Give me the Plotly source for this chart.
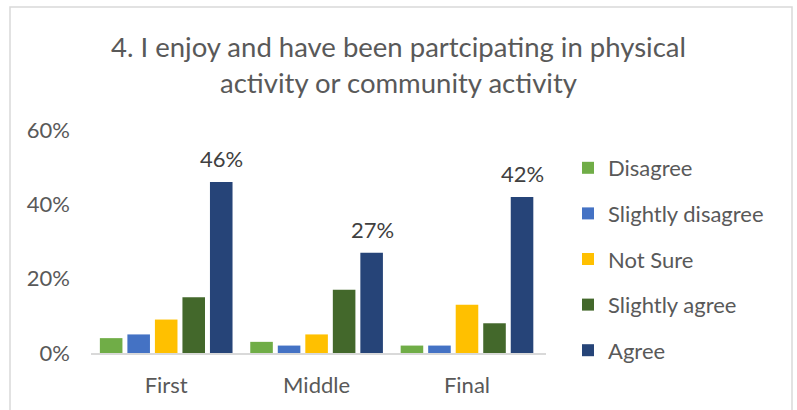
import plotly.graph_objects as go

# Survey responses by stage
stages = ["First", "Middle", "Final"]
disagree = [0.04, 0.03, 0.02]
slightly_disagree = [0.05, 0.02, 0.02]
not_sure = [0.09, 0.05, 0.13]
slightly_agree = [0.15, 0.17, 0.08]
agree = [0.46, 0.27, 0.42]

series = [
    ("Disagree", disagree, "#70AD47"),
    ("Slightly disagree", slightly_disagree, "#4472C4"),
    ("Not Sure", not_sure, "#FFC000"),
    ("Slightly agree", slightly_agree, "#43682B"),
    ("Agree", agree, "#264478"),
]

W, H = 797, 410
ML, MR, MT, MB = 91, 251, 130, 57
PW, PH = W - ML - MR, H - MT - MB
BARGAP = 0.085

FONT = "Lato"
GREY = "#595959"

fig = go.Figure()
for i, (name, vals, color) in enumerate(series):
    fig.add_trace(go.Bar(
        x=stages,
        y=vals,
        name=name,
        marker=dict(color=color, line=dict(width=0)),
        legendgroup=f"g{i}",
    ))

# value labels above the "Agree" bars (last bar of each group)
slot = PW / len(stages) * (1 - BARGAP) / len(series)
agree_offset = (len(series) - 1) / 2 * slot
annotations = [
    dict(
        x=stage, y=v, xref="x", yref="y",
        text=f"{v:.0%}", showarrow=False,
        xanchor="center", yanchor="bottom",
        xshift=agree_offset, yshift=8,
        font=dict(family=FONT, size=22, color="#404040"),
    )
    for stage, v in zip(stages, agree)
]


def px_x(px):
    return (px - ML) / PW


def px_y(py):
    return (H - MB - py) / PH


fig.update_layout(
    width=W,
    height=H,
    margin=dict(l=ML, r=MR, t=MT, b=MB),
    paper_bgcolor="white",
    plot_bgcolor="white",
    barmode="group",
    bargap=BARGAP,
    bargroupgap=0.18,
    font=dict(family=FONT, color=GREY),
    title=dict(
        text="4. I enjoy and have been partcipating in physical<br>activity or community activity",
        x=0.5,
        xanchor="center",
        y=1 - 57 / H,
        yanchor="middle",
        font=dict(family=FONT, size=27.5, color=GREY),
    ),
    legend=dict(
        x=px_x(568),
        y=px_y(147),
        xanchor="left",
        yanchor="top",
        font=dict(family=FONT, size=22, color=GREY),
        tracegroupgap=14,
        itemwidth=30,
        maxheight=400,
        bgcolor="rgba(0,0,0,0)",
    ),
    showlegend=True,
    annotations=annotations,
    xaxis=dict(
        showgrid=False,
        showline=True,
        linecolor="#D9D9D9",
        linewidth=1.5,
        ticks="",
        tickfont=dict(family=FONT, size=22, color=GREY),
        ticklabelstandoff=12,
        fixedrange=True,
    ),
    yaxis=dict(
        range=[0, 0.6],
        dtick=0.2,
        tickformat=".0%",
        showgrid=False,
        zeroline=False,
        showline=False,
        ticks="",
        tickfont=dict(family=FONT, size=22, color=GREY),
        ticklabelstandoff=20,
        fixedrange=True,
    ),
    shapes=[
        dict(
            type="rect",
            xref="paper", yref="paper",
            x0=px_x(10), x1=px_x(792),
            y0=px_y(415), y1=px_y(7),
            line=dict(color="#D9D9D9", width=1.5),
            fillcolor="rgba(0,0,0,0)",
            layer="below",
        )
    ],
)

fig.write_html("out.html")
